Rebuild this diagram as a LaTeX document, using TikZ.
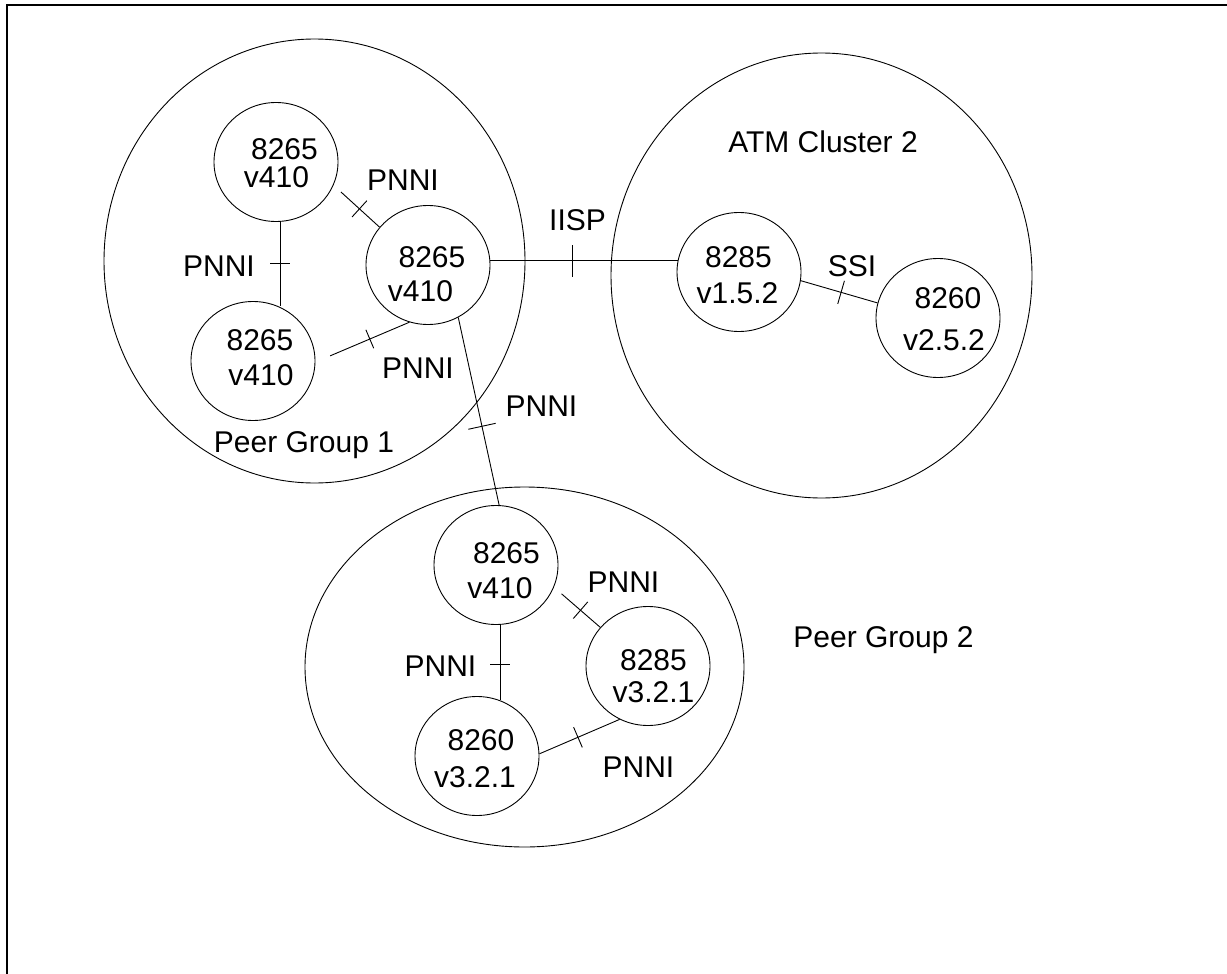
\documentclass[tikz,border=0pt]{standalone}
\usepackage{fontspec}
\setmainfont{Liberation Sans}
\usetikzlibrary{shapes.geometric,calc,decorations.markings}
\begin{document}
\begin{tikzpicture}[x=1pt,y=-1pt,
  link/.style={line width=0.9pt},
  switch/.style={ellipse,draw,line width=0.9pt,inner sep=0pt,
    minimum width=124pt,minimum height=119pt},
  group/.style={ellipse,draw,line width=0.9pt,inner sep=0pt},
  lbl/.style={inner sep=0pt,font=\fontsize{30}{35}\selectfont},
  swline/.style={lbl,anchor=base},
  hatch/.style 2 args={postaction={decorate,decoration={markings,
    mark=at position #1 with {\draw[link] (0pt,-#2) -- (0pt,#2);}}}},
]
\useasboundingbox (0,0) rectangle (1227,974);

% page frame (top and left edges)
\coordinate (frameTL) at (7,5);
\draw[line width=1.8pt] (frameTL |- 0,974) -- (frameTL) -- (frameTL -| 1227,0);

% groups
\node[group,minimum width=421pt,minimum height=444pt] (pg1) at (314.5,261) {};
\node[group,minimum width=421pt,minimum height=445pt] (atm) at (821.5,275.5) {};
\node[group,minimum width=439pt,minimum height=360pt] (pg2) at (524.5,667) {};

% switches
\node[switch] (A) at (276,162) {};
\node[switch] (B) at (428,265) {};
\node[switch] (C) at (253,361) {};
\node[switch] (D) at (739,272) {};
\node[switch] (E) at (938,318) {};
\node[switch] (F) at (496,565) {};
\node[switch] (G) at (648,666) {};
\node[switch] (H) at (477,756) {};

% switch model and release
\node[swline] (A1) at (284.5,159) {8265};
\node[swline] (A2) at (276.5,187.5) {v410};
\node[swline] (B1) at (432,267) {8265};
\node[swline] (B2) at (420.5,301) {v410};
\node[swline] (C1) at (260,350) {8265};
\node[swline] (C2) at (261,385) {v410};
\node[swline] (D1) at (738.5,267) {8285};
\node[swline] (D2) at (737.5,303) {v1.5.2};
\node[swline] (E1) at (948,308) {8260};
\node[swline] (E2) at (944,350) {v2.5.2};
\node[swline] (F1) at (506.5,563) {8265};
\node[swline] (F2) at (500,598) {v410};
\node[swline] (G1) at (653.5,670) {8285};
\node[swline] (G2) at (653.5,702) {v3.2.1};
\node[swline] (H1) at (481,750) {8260};
\node[swline] (H2) at (475,787) {v3.2.1};

% links
\draw[link,hatch={0.48}{11pt}] ($(A.-22.5)!10pt!(B.142.4)$) -- (B.142.4);
\draw[link,hatch={0.49}{10pt}] (A.-86) -- (A.-86 |- C.66);
\draw[link,hatch={0.5}{10pt}] (B.-108.1) -- ($(C.-1.2)!16pt!(B.-108.1)$);
\draw[link,hatch={0.58}{14pt}] (B.-60.5) -- (F.87);
\draw[link,hatch={0.44}{16pt}] (B.4.6) -- (B.4.6 -| D.169);
\draw[link,hatch={0.525}{12pt}] (D.-8.5) -- (E.166.9);
\draw[link,hatch={0.52}{10pt}] (F.-86) -- (F.-86 |- H.68);
\draw[link,hatch={0.49}{11pt}] ($(F.-21.3)!10pt!(G.141.6)$) -- (G.141.6);
\draw[link,hatch={0.52}{11pt}] (G.-118.6) -- (H.2.7);

% link labels
\node[lbl] (lAC) at (219,266) {PNNI};
\node[lbl] (lAB) at (403,180) {PNNI};
\node[lbl] (lBC) at (418,368) {PNNI};
\node[lbl] (lBF) at (541.5,406) {PNNI};
\node[lbl] (lBD) at (577.5,220) {IISP};
\node[lbl] (lDE) at (852,266) {SSI};
\node[lbl] (lFH) at (440.5,666) {PNNI};
\node[lbl] (lFG) at (623.5,582.5) {PNNI};
\node[lbl] (lGH) at (638.5,767.5) {PNNI};

% group titles
\node[lbl] (tpg1) at (304,445) {Peer Group 1};
\node[lbl] (tatm) at (823,141.5) {ATM Cluster 2};
\node[lbl] (tpg2) at (883.5,640.5) {Peer Group 2};
\end{tikzpicture}
\end{document}
